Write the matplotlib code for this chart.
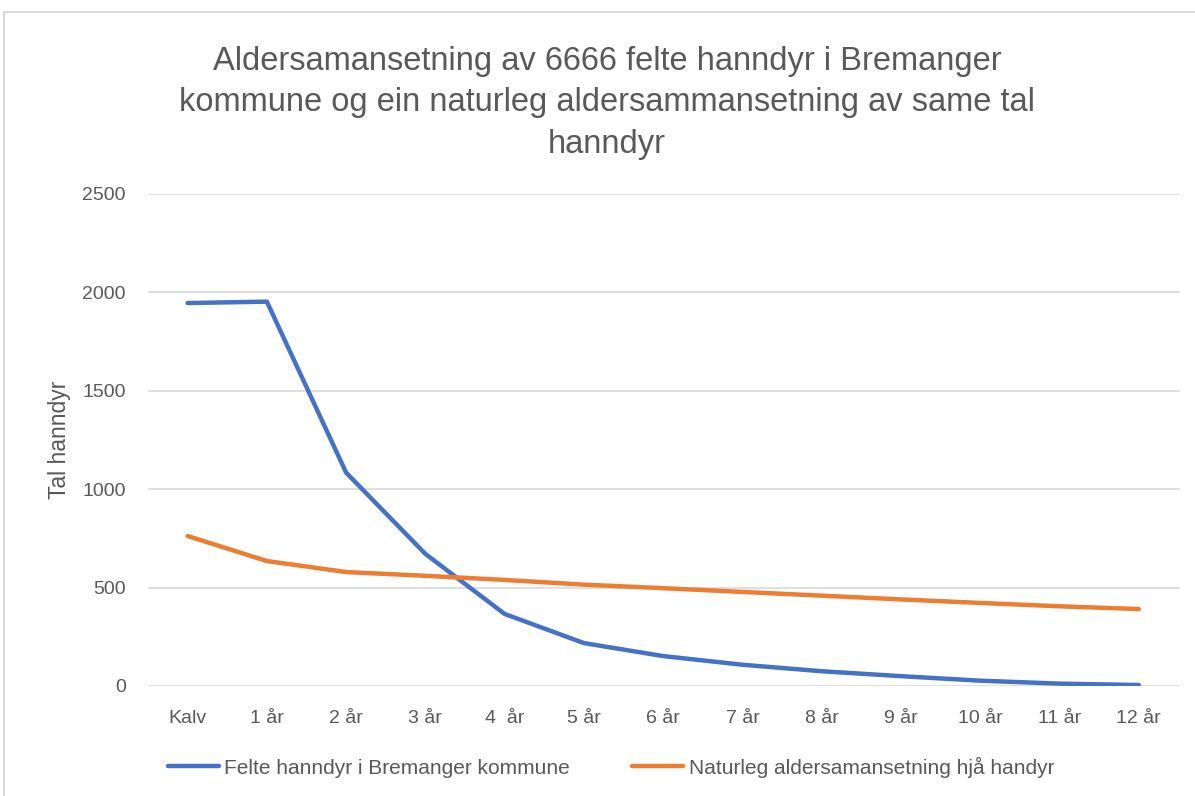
import matplotlib
matplotlib.use("Agg")
import matplotlib.pyplot as plt
from matplotlib.patches import Rectangle

# data
categories = ["Kalv", "1 år", "2 år", "3 år", "4  år", "5 år", "6 år",
              "7 år", "8 år", "9 år", "10 år", "11 år", "12 år"]
felte = [1946, 1953, 1084, 671, 366, 218, 152, 108, 75, 50, 27, 12, 5]
naturleg = [762, 635, 579, 560, 539, 515, 497, 478, 459, 440, 422, 405, 391]

title = ("Aldersamansetning av 6666 felte hanndyr i Bremanger\n"
         "kommune og ein naturleg aldersammansetning av same tal\nhanndyr")
ylabel = "Tal hanndyr"
label_felte = "Felte hanndyr i Bremanger kommune"
label_nat = "Naturleg aldersamansetning hjå handyr"

plt.rcParams["font.family"] = ["Liberation Sans", "DejaVu Sans"]
grey = "#595959"

W, H = 1195, 796
fig = plt.figure(figsize=(W / 100, H / 100), dpi=100)
# light chart frame
fig.patches.append(Rectangle((4 / W, -0.02), 1.1, 1 - 12 / H + 0.02, transform=fig.transFigure,
                             fill=False, edgecolor="#d9d9d9", lw=1.5))

ax = fig.add_axes([148 / W, 1 - 686 / H, (1180 - 148) / W, (686 - 194) / H])
x = list(range(len(categories)))
ax.plot(x, felte, color="#4472C4", lw=3.2, solid_capstyle="round", label=label_felte, zorder=3)
ax.plot(x, naturleg, color="#ED7D31", lw=3.2, solid_capstyle="round", label=label_nat, zorder=3)

ax.set_xlim(-0.5, 12.52)
ax.set_ylim(0, 2500)
ax.set_yticks([0, 500, 1000, 1500, 2000, 2500])
ax.set_xticks(x)
ax.set_xticklabels(categories)
ax.grid(axis="y", color="#d9d9d9", lw=1.2)
ax.set_axisbelow(True)
for s in ax.spines.values():
    s.set_visible(False)
ax.tick_params(axis="both", length=0, colors=grey, labelsize=14)
ax.tick_params(axis="y", pad=16)
ax.tick_params(axis="x", pad=17)
ax.set_ylabel(ylabel, color=grey, fontsize=16.5, labelpad=8)

fig.text(607 / W, 1 - 103 / H, title, ha="center", va="center", fontsize=23.5,
         color=grey, linespacing=1.42)

fig.legend(loc="center", bbox_to_anchor=(611 / W, 1 - 767 / H), ncol=2, frameon=False,
           fontsize=15, handlelength=2.45, handletextpad=0.25, columnspacing=3.0,
           labelcolor=grey)

fig.savefig("out.png", dpi=100)
